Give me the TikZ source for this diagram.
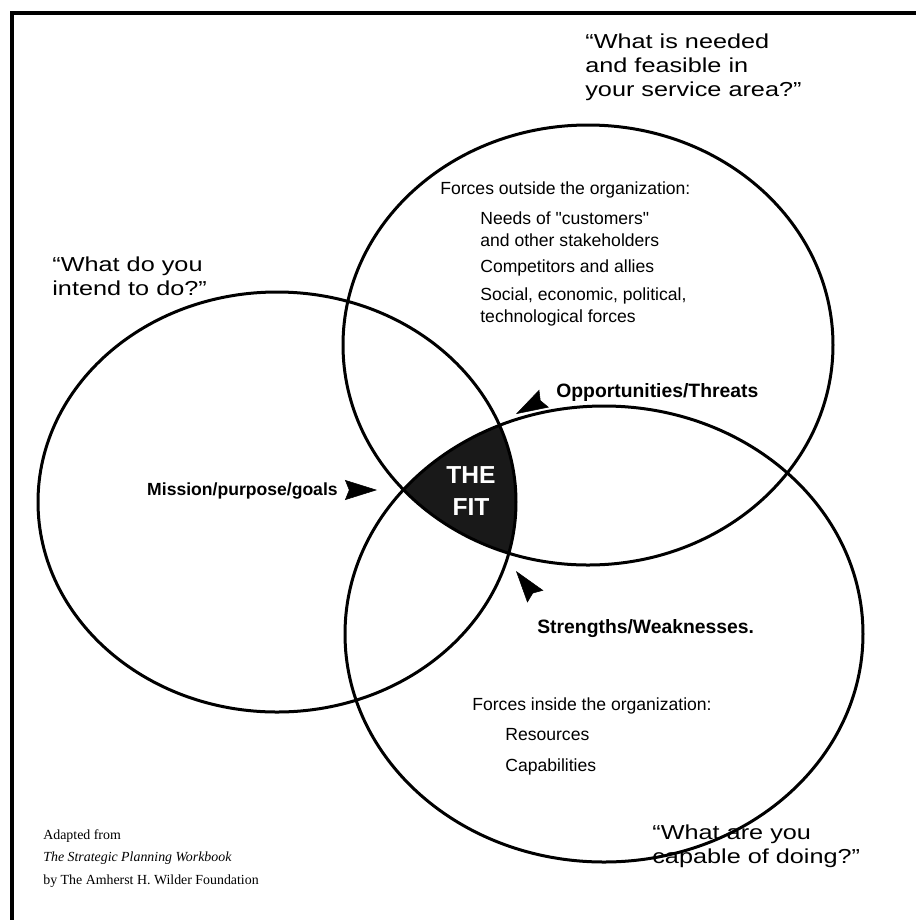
\documentclass[tikz,border=0pt]{standalone}
\usepackage{fontspec}
\setmainfont{Liberation Sans}[Ligatures=TeXOff]
\newfontfamily\quotefont[FakeStretch=1.25]{Liberation Sans}
\newfontfamily\creditfont{Liberation Serif}
\usetikzlibrary{arrows.meta}

\begin{document}
\begin{tikzpicture}[x=0.2mm,y=-0.2mm,
  ring/.style={line width=0.6mm},
  quote/.style={font=\quotefont\fontsize{11.5}{13.7}\selectfont, align=left, anchor=north west, inner sep=0pt},
  body/.style={font=\fontsize{10}{12.5}\selectfont, align=left, anchor=north west, inner sep=0pt},
  tag/.style={font=\bfseries\fontsize{11}{13}\selectfont, inner sep=0pt},
  pointer/.style={line width=0.3pt, -{Stealth[length=6.4mm,width=4mm,inset=0.8mm]}}]
\useasboundingbox (0,0) rectangle (916,920);

% frame, top and left edge only
\draw[line width=0.8mm, line join=miter] (12,920) -- (12,13) -- (916,13);

% centres of the three rings
\coordinate (purpose) at (277,502);
\coordinate (outside) at (588,345);
\coordinate (inside) at (604,634);
\tikzset{
  purposeRing/.style={x radius=239, y radius=210},
  outsideRing/.style={x radius=245, y radius=220},
  insideRing/.style={x radius=259, y radius=228}}

% the fit: inside all three rings
\begin{scope}
  \clip (purpose) ellipse [purposeRing];
  \clip (outside) ellipse [outsideRing];
  \fill[black!90] (inside) ellipse [insideRing];
\end{scope}
\draw[ring] (purpose) ellipse [purposeRing];
\draw[ring] (outside) ellipse [outsideRing];
\draw[ring] (inside) ellipse [insideRing];
\node[font=\bfseries\fontsize{14}{18}\selectfont, text=white, align=center] (fit) at (471,491) {THE\\FIT};

% questions
\node[quote] (needQ) at (585,33) {“What is needed\\and feasible in\\your service area?”};
\node[quote] (intendQ) at (52,256) {“What do you\\intend to do?”};
\node[quote] (capableQ) at (652,824) {“What are you\\capable of doing?”};

% outside forces
\node[body] (outsideHead) at (440,181) {Forces outside the organization:};
\node[body] (needs) at (480,211) {Needs of "customers"\\and other stakeholders};
\node[body] (rivals) at (480,259) {Competitors and allies};
\node[body] (trends) at (480,287) {Social, economic, political,\\technological forces};

% inside forces
\node[body] (insideHead) at (472,697) {Forces inside the organization:};
\node[body] (res) at (505,728) {Resources};
\node[body] (cap) at (505,758) {Capabilities};

% labels pointing at the fit
\node[tag, anchor=west] (opp) at (556,392) {Opportunities/Threats};
\node[tag, anchor=east, font=\bfseries\fontsize{10}{12}\selectfont] (mission) at (338,491) {Mission/purpose/goals};
\node[tag, anchor=west] (str) at (537,629) {Strengths/Weaknesses.};
\coordinate (tipO) at (516,414);
\coordinate (tipM) at (377,490);
\coordinate (tipS) at (516,571);
\draw[pointer] ([shift={(-15.5,8.5)}]opp.west) -- (tipO);
\draw[pointer] ([shift={(11,-1)}]mission.east) -- (tipM);
\draw[pointer] ([shift={(-4,-35.6)}]str.west) -- (tipS);

% source
\node[font=\creditfont\fontsize{7.9}{12.8}\selectfont, align=left, anchor=north west, inner sep=0pt] (credit) at (43,829)
  {Adapted from\\\textit{The Strategic Planning Workbook}\\by The Amherst H. Wilder Foundation};
\end{tikzpicture}
\end{document}
